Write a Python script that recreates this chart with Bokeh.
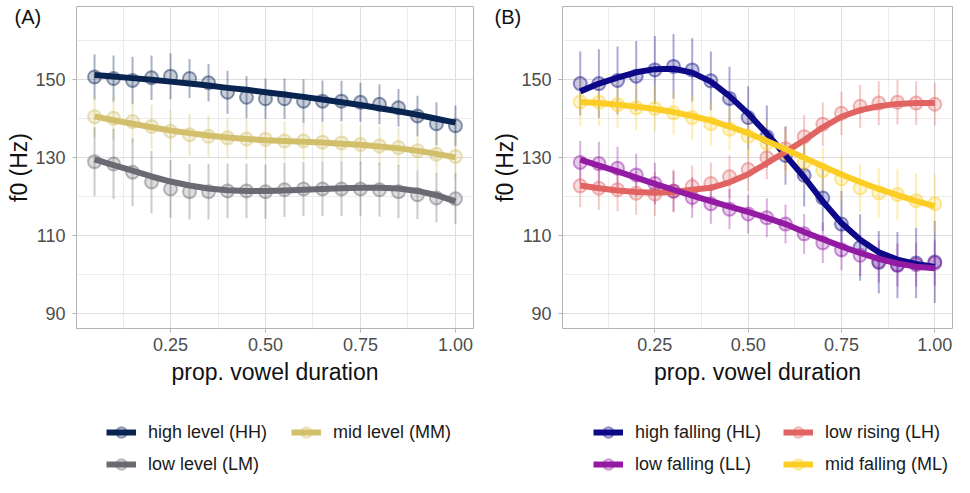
from bokeh.plotting import figure
from bokeh.models import Range1d, FixedTicker, Legend, LegendItem, Label, ColumnDataSource
from bokeh.layouts import row, column
from bokeh.embed import file_html
from bokeh.resources import INLINE

# ---------------- data ----------------
x = [0.05, 0.10, 0.15, 0.20, 0.25, 0.30, 0.35, 0.40, 0.45, 0.50,
     0.55, 0.60, 0.65, 0.70, 0.75, 0.80, 0.85, 0.90, 0.95, 1.00]

x_ticks = [0.25, 0.50, 0.75, 1.00]
x_tick_labels = ["0.25", "0.50", "0.75", "1.00"]
x_minor = [0.125, 0.375, 0.625, 0.875]
y_ticks = [90, 110, 130, 150]
y_minor = [100, 120, 140, 160]

# Panel A: level tones
a_labels = ["high level (HH)", "mid level (MM)", "low level (LM)"]
a_colors = ["#0a2452", "#d2bf6c", "#696a72"]
hh_mean = [150.7, 150.3, 149.8, 150.5, 150.9, 150.3, 149.2, 146.8, 145.5, 145.1,
           145.1, 144.5, 144.5, 144.5, 144.2, 143.7, 142.8, 140.7, 138.7, 138.2]
hh_err = [5.8, 5.9, 6.1, 5.7, 5.9, 5.0, 4.8, 5.5, 5.4, 5.2,
          5.2, 5.6, 5.3, 5.2, 5.0, 5.1, 4.8, 5.2, 5.5, 5.2]
hh_fit = [151.2, 150.8, 150.4, 150.0, 149.5, 149.0, 148.5, 147.9, 147.4, 146.8,
          146.2, 145.6, 144.9, 144.2, 143.5, 142.7, 141.9, 141.0, 140.0, 139.0]
mm_mean = [140.5, 140.1, 139.3, 138.0, 136.8, 135.9, 135.5, 135.1, 134.8, 134.7,
           134.3, 134.3, 134.0, 133.8, 133.4, 133.0, 132.6, 131.8, 130.9, 130.3]
mm_err = [5.4, 5.5, 5.6, 5.6, 5.5, 5.4, 5.3, 5.2, 5.2, 5.1,
          5.0, 5.0, 5.1, 5.1, 5.0, 5.0, 5.0, 5.1, 5.2, 5.4]
mm_fit = [140.6, 139.6, 138.7, 137.8, 137.0, 136.3, 135.7, 135.2, 134.8, 134.5,
          134.3, 134.1, 133.9, 133.6, 133.3, 132.9, 132.4, 131.8, 131.0, 130.1]
lm_mean = [129.0, 128.4, 126.3, 123.8, 122.0, 121.3, 121.3, 121.5, 121.5, 121.3,
           121.8, 122.0, 122.0, 122.0, 122.0, 121.8, 121.3, 120.5, 119.7, 119.5]
lm_err = [8.8, 9.0, 8.7, 8.0, 7.4, 7.1, 7.1, 7.0, 7.0, 7.0,
          7.0, 7.0, 7.0, 7.0, 7.0, 6.9, 6.8, 6.2, 6.3, 6.5]
lm_fit = [129.6, 128.1, 126.7, 125.2, 123.9, 122.9, 122.1, 121.7, 121.5, 121.5,
          121.6, 121.8, 122.0, 122.2, 122.3, 122.3, 122.1, 121.5, 120.4, 118.8]

# Panel B: contour tones
b_labels = ["high falling (HL)", "low rising (LH)", "low falling (LL)", "mid falling (ML)"]
b_colors = ["#0d0887", "#e16462", "#931ba3", "#fcce25"]
hl_mean = [149.0, 149.0, 149.8, 150.9, 152.5, 153.4, 152.5, 149.7, 145.2, 140.3,
           135.4, 130.6, 125.5, 119.7, 113.0, 107.0, 103.2, 102.5, 103.0, 103.3]
hl_err = [8.2, 8.8, 8.7, 9.0, 8.7, 8.3, 8.1, 7.5, 8.1, 8.0,
          8.0, 7.5, 8.0, 8.5, 8.5, 8.5, 8.0, 8.5, 9.0, 10.5]
hl_fit = [147.0, 149.0, 150.5, 151.9, 152.7, 152.8, 151.8, 149.5, 145.8, 141.3,
          136.2, 130.6, 125.0, 118.8, 113.3, 109.0, 105.8, 103.9, 102.8, 102.0]
lh_mean = [122.8, 122.2, 121.8, 120.9, 120.7, 121.5, 122.6, 123.4, 125.1, 127.0,
           130.0, 132.3, 135.4, 138.6, 141.4, 143.2, 144.0, 144.2, 144.0, 143.7]
lh_err = [5.5, 5.6, 5.5, 5.5, 5.6, 5.5, 5.4, 5.4, 5.5, 5.5,
          5.5, 5.6, 5.6, 5.6, 5.6, 5.5, 5.6, 5.7, 5.6, 5.5]
lh_fit = [122.9, 122.2, 121.6, 121.2, 121.0, 121.2, 121.8, 122.3, 123.7, 125.8,
          128.6, 131.5, 134.5, 137.8, 140.5, 142.2, 143.2, 143.8, 144.0, 144.0]
ll_mean = [128.8, 128.5, 127.3, 125.6, 123.4, 121.4, 119.8, 118.2, 116.8, 115.6,
           114.6, 113.0, 110.5, 108.2, 106.4, 105.0, 103.4, 102.5, 102.6, 103.0]
ll_err = [5.5, 5.6, 5.5, 5.4, 5.3, 5.2, 5.2, 5.1, 5.1, 5.0,
          5.0, 5.0, 5.1, 5.2, 5.2, 5.3, 5.4, 5.5, 5.6, 5.8]
ll_fit = [129.5, 128.0, 126.5, 124.9, 123.3, 121.8, 120.3, 118.9, 117.5, 116.1,
          114.6, 113.0, 111.0, 109.1, 107.3, 105.6, 104.1, 102.9, 102.1, 101.7]
ml_mean = [144.3, 144.2, 143.6, 142.8, 142.6, 141.5, 140.3, 138.7, 137.3, 135.5,
           133.7, 131.3, 128.8, 126.7, 124.6, 122.3, 121.0, 120.6, 119.0, 118.2]
ml_err = [6.2, 6.0, 6.0, 5.8, 5.8, 5.7, 5.6, 5.6, 5.6, 5.6,
          5.6, 5.7, 5.8, 5.9, 6.0, 6.2, 6.4, 6.6, 7.0, 7.5]
ml_fit = [144.3, 144.0, 143.6, 143.1, 142.5, 141.7, 140.7, 139.5, 138.0, 136.3,
          134.3, 132.2, 130.0, 127.8, 125.7, 123.8, 122.0, 120.4, 118.9, 117.6]

a_series = [(hh_mean, hh_err, hh_fit), (mm_mean, mm_err, mm_fit), (lm_mean, lm_err, lm_fit)]
b_series = [(hl_mean, hl_err, hl_fit), (lh_mean, lh_err, lh_fit), (ll_mean, ll_err, ll_fit), (ml_mean, ml_err, ml_fit)]

FONT = "Liberation Sans"
FRAME_H = 322
MAIN_BOTTOM = 90
LEG_H = 477 - (6 + FRAME_H + MAIN_BOTTOM)
TAG_Y = 404   # measured upward from the bottom of the tag's side panel


def sources(series):
    out = []
    for m, e, f in series:
        out.append(ColumnDataSource(dict(
            x=x, m=m, f=f,
            lo=[a - b for a, b in zip(m, e)],
            hi=[a + b for a, b in zip(m, e)])))
    return out


def make_panel(tag, colors, series, border_left, frame_w, border_right, tag_x):
    p = figure(frame_width=frame_w, frame_height=FRAME_H,
               min_border_left=border_left, min_border_right=border_right,
               min_border_top=6, min_border_bottom=MAIN_BOTTOM,
               x_range=Range1d(0.0025, 1.0475), y_range=Range1d(86.25, 168.75),
               output_backend="svg", toolbar_location=None,
               x_axis_label="prop. vowel duration", y_axis_label="f0 (Hz)")
    p.background_fill_color = "white"
    p.border_fill_color = "white"
    p.outline_line_color = "#b3b3b3"
    p.outline_line_width = 1

    p.xaxis.ticker = FixedTicker(ticks=x_ticks, minor_ticks=x_minor)
    p.xaxis.major_label_overrides = {t: l for t, l in zip(x_ticks, x_tick_labels)}
    p.yaxis.ticker = FixedTicker(ticks=y_ticks, minor_ticks=y_minor)
    for ax in (p.xaxis, p.yaxis):
        ax.axis_line_color = None
        ax.major_tick_line_color = "#b3b3b3"
        ax.major_tick_out = 4
        ax.major_tick_in = 0
        ax.minor_tick_line_color = None
        ax.major_label_text_font = FONT
        ax.major_label_text_font_size = "18px"
        ax.major_label_text_color = "#4d4d4d"
        ax.axis_label_text_font = FONT
        ax.axis_label_text_font_size = "23px"
        ax.axis_label_text_font_style = "normal"
        ax.axis_label_text_color = "#111111"
    p.xaxis.major_label_standoff = 5
    p.xaxis.axis_label_standoff = 5
    p.yaxis.major_label_standoff = 7
    p.yaxis.axis_label_standoff = 0

    for g in (p.xgrid, p.ygrid):
        g.grid_line_color = "#dedede"
        g.grid_line_width = 1
        g.minor_grid_line_color = "#ececec"
        g.minor_grid_line_width = 1

    srcs = sources(series)
    for src, c in zip(srcs, colors):
        p.segment(x0="x", y0="lo", x1="x", y1="hi", source=src,
                  line_color=c, line_alpha=0.35, line_width=2)
    for src, c in zip(srcs, colors):
        p.scatter("x", "m", source=src, marker="circle", size=13,
                  fill_color=c, fill_alpha=0.22, line_color=c,
                  line_alpha=0.45, line_width=2)
    for src, c in zip(srcs, colors):
        p.line("x", "f", source=src, line_color=c, line_width=6, line_join="round")

    # panel tag: placed in a side panel (not clipped to the frame)
    p.add_layout(Label(x=tag_x, y=TAG_Y, x_units="screen", y_units="screen",
                       text=tag, text_baseline="top", text_align="left",
                       text_font=FONT, text_font_size="20px",
                       text_color="#111111"), "below")
    return p


def make_legend(labels, colors, series, width, border_left, label_w):
    q = figure(width=width, height=LEG_H, min_border_left=border_left,
               min_border_right=0, min_border_top=max(LEG_H - 58, 0), min_border_bottom=0,
               x_range=Range1d(10, 11), y_range=Range1d(10, 11),
               x_axis_type=None, y_axis_type=None,
               output_backend="svg", toolbar_location=None)
    q.outline_line_color = None
    q.xgrid.visible = False
    q.ygrid.visible = False
    q.border_fill_color = "white"
    q.background_fill_color = "white"
    items = []
    for src, c, lab in zip(sources(series), colors, labels):
        ln = q.line("x", "f", source=src, line_color=c, line_width=6)
        dt = q.scatter("x", "m", source=src, marker="circle", size=12,
                       fill_color=c, fill_alpha=0.22, line_color=c,
                       line_alpha=0.4, line_width=2)
        items.append(LegendItem(label=lab, renderers=[ln, dt]))
    leg = Legend(items=items, orientation="horizontal", ncols=2,
                 location="top_left", glyph_width=30, glyph_height=26,
                 label_standoff=12, spacing=6, padding=0, margin=0,
                 label_width=label_w,
                 border_line_color=None, background_fill_alpha=0,
                 label_text_font=FONT, label_text_font_size="18px",
                 label_text_color="#1a1a1a")
    q.add_layout(leg, "center")
    return q


pA = make_panel("(A)", a_colors, a_series, 76, 397, 5, -62)
pB = make_panel("(B)", b_colors, b_series, 84, 390, 1, -68)
lA = make_legend(a_labels, a_colors, a_series, 478, 106, 137)
lB = make_legend(b_labels, b_colors, b_series, 475, 115, 142)

layout = column(row(pA, pB), row(lA, lB))
open("out.html", "w").write(file_html(layout, INLINE))
